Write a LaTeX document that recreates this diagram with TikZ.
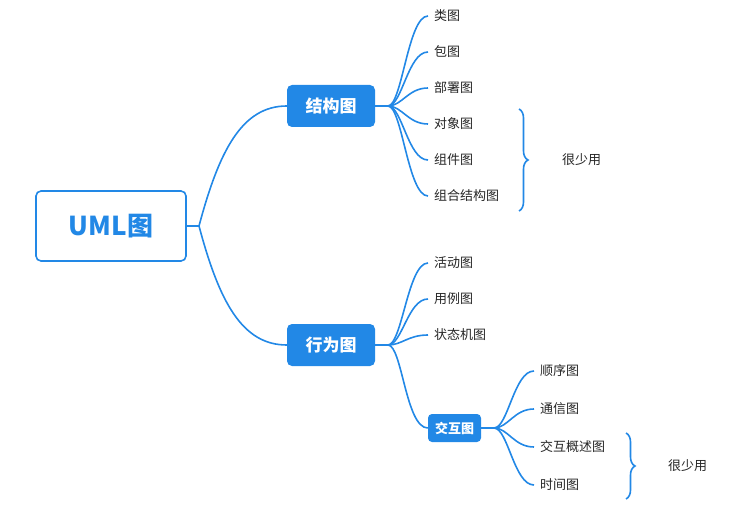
\documentclass[tikz,border=0pt]{standalone}
\usepackage{fontspec}
\setmainfont{Noto Sans CJK SC}
\usetikzlibrary{decorations.pathreplacing}
\definecolor{mb}{HTML}{2288E6}
\begin{document}
\begin{tikzpicture}[x=1pt,y=-1pt,
  conn/.style={draw=mb,line width=1.6pt},
  leaf/.style={anchor=west,inner sep=0pt,font=\fontsize{13}{15}\selectfont,text=black!85},
  main/.style={fill=mb,rounded corners=5pt,text=white,font=\fontsize{17}{20}\selectfont\bfseries,minimum width=88pt,minimum height=42pt,inner sep=0pt},
  brc/.style={draw=mb,line width=1.6pt,decorate,decoration={brace,amplitude=9pt}}]
\useasboundingbox (0,0) rectangle (749,513);
\node[draw=mb,line width=1.6pt,fill=white,rounded corners=5pt,minimum width=150pt,minimum height=70pt,text=mb,font=\fontsize{26}{30}\selectfont\bfseries] (root) at (111,226) {UML图};
\node[main] (jg) at (331,106) {结构图};
\node[main] (xw) at (331,345) {行为图};
\node[fill=mb,rounded corners=4pt,text=white,font=\fontsize{13}{15}\selectfont\bfseries,minimum width=53pt,minimum height=28pt,inner sep=0pt] (jh) at (454.5,428) {交互图};
\coordinate (r0) at (199,226);
\draw[conn] (root.east) -- (r0);
\draw[conn] (r0) .. controls +(20,-75) and +(-45,0) .. (jg.west);
\draw[conn] (r0) .. controls +(20,75) and +(-45,0) .. (xw.west);
% structure children
\foreach \n/\t/\y in {a/类图/16,b/包图/52,c/部署图/88,d/对象图/124,e/组件图/160,f/组合结构图/196}{
  \node[leaf] (\n) at (434,\y) {\t};
}
\coordinate (j0) at (388,106);
\draw[conn] (jg.east) -- (j0);
\foreach \n in {a,b,c,d,e,f}{
  \draw[conn] (j0) .. controls +(14,0) and +(-20,0) .. ([xshift=-6pt]\n.west) -- ([xshift=-6pt]\n.west);
}
% behaviour children
\foreach \n/\t/\y in {g/活动图/263,h/用例图/299,i/状态机图/335}{
  \node[leaf] (\n) at (434,\y) {\t};
}
\coordinate (x0) at (388,345);
\draw[conn] (xw.east) -- (x0);
\foreach \n in {g,h,i}{
  \draw[conn] (x0) .. controls +(14,0) and +(-20,0) .. ([xshift=-6pt]\n.west);
}
\draw[conn] (x0) .. controls +(14,0) and +(-22,0) .. (jh.west);
% interaction children
\foreach \n/\t/\y in {k/顺序图/371,l/通信图/409,m/交互概述图/447,o/时间图/485}{
  \node[leaf] (\n) at (540,\y) {\t};
}
\coordinate (h0) at (494,428);
\draw[conn] (jh.east) -- (h0);
\foreach \n in {k,l,m,o}{
  \draw[conn] (h0) .. controls +(14,0) and +(-20,0) .. ([xshift=-6pt]\n.west);
}
% braces
\coordinate (b1t) at (519,109);
\coordinate (b1b) at (519,211);
\draw[brc] (b1t) -- (b1b);
\node[leaf] (s1) at (562,160) {很少用};
\coordinate (b2t) at (626,433);
\coordinate (b2b) at (626,499);
\draw[brc] (b2t) -- (b2b);
\node[leaf] (s2) at (668,466) {很少用};
\end{tikzpicture}
\end{document}
